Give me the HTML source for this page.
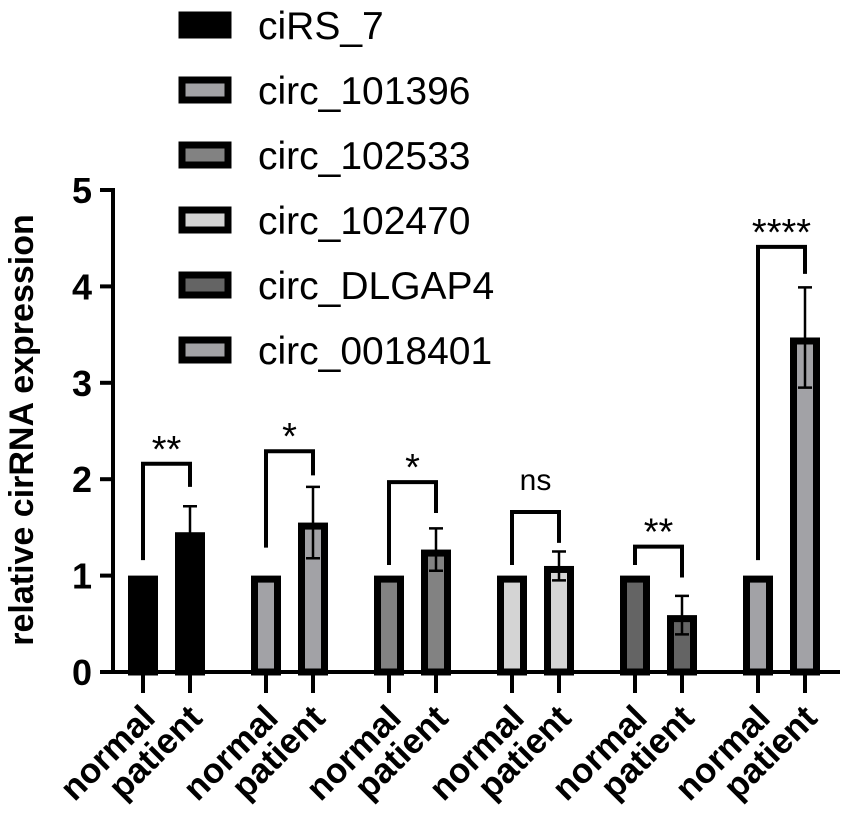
<!DOCTYPE html>
<html><head><meta charset="utf-8"><style>
body{margin:0;background:#fff;}
svg{display:block;font-family:"Liberation Sans",sans-serif;}
</style></head><body>
<svg id="chart" width="850" height="825" viewBox="0 0 850 825"></svg>
<script>
const series = ["ciRS_7","circ_101396","circ_102533","circ_102470","circ_DLGAP4","circ_0018401"];
const fills = ["#000","#a2a2a6","#828282","#d4d4d4","#646464","#a2a2a6"];
const normalValues = [1,1,1,1,1,1];
const patientValues = [1.45,1.55,1.27,1.10,0.59,3.47];
const patientErrors = [0.27,0.37,0.22,0.15,0.20,0.52];
const sigLabels = ["**","*","*","ns","**","****"];
const bracketTops = [2.16,2.29,1.97,1.66,1.30,4.41];
const bracketLeft = [1.16,1.29,1.11,1.11,1.11,1.16];
const bracketRight = [1.92,2.04,1.65,1.34,0.98,4.13];
const yTicks = [0,1,2,3,4,5];

const NS="http://www.w3.org/2000/svg";
const svg=document.getElementById('chart');
function el(t,a,p){const e=document.createElementNS(NS,t);for(const k in a)e.setAttribute(k,a[k]);(p||svg).appendChild(e);return e;}
const y0=672, unit=96.4;
function Y(v){return y0-v*unit;}
function X(g,sub){return 143+g*123+sub*47;}
const bw=30;

let a=el('line',{x1:113,y1:Y(5)-2,x2:113,y2:y0+2,stroke:'#000','stroke-width':4});

a=el('line',{x1:111,y1:y0,x2:840,y2:y0,stroke:'#000','stroke-width':4});

yTicks.forEach(t=>{
  const l=el('line',{x1:100,y1:Y(t),x2:113,y2:Y(t),stroke:'#000','stroke-width':4});
  
  const tx=el('text',{x:92,y:Y(t)+13,'text-anchor':'end','font-size':36,'font-weight':'bold'});
  tx.textContent=t;
  
});
const yt=el('text',{transform:'translate(33,430) rotate(-90)','text-anchor':'middle','font-size':34,'font-weight':'bold'});
yt.textContent='relative cirRNA expression';


function bar(x,v,fill,name){
  const top=Y(v);
  const r=el('rect',{x:x-bw/2+3.5,y:top+3.5,width:bw-7,height:y0-top-3.5,fill:fill,stroke:'#000','stroke-width':7});
  
}
series.forEach((s,g)=>{
  bar(X(g,0),normalValues[g],fills[g],'bar-normal-'+g);
  bar(X(g,1),patientValues[g],fills[g],'bar-patient-'+g);
  [0,1].forEach(sub=>{const t=el('line',{x1:X(g,sub),y1:y0,x2:X(g,sub),y2:y0+21,stroke:'#000','stroke-width':4});
    });
  const xp=X(g,1),hi=patientValues[g]+patientErrors[g],lo=patientValues[g]-patientErrors[g];
  const eb=el('path',{d:`M${xp} ${Y(hi)}V${Y(lo)}M${xp-7} ${Y(hi)}H${xp+7}M${xp-7} ${Y(lo)}H${xp+7}`,stroke:'#000','stroke-width':2.5,fill:'none'});
  
  const xl=X(g,0),xr=X(g,1);
  const br=el('path',{d:`M${xl} ${Y(bracketLeft[g])}V${Y(bracketTops[g])}H${xr}V${Y(bracketRight[g])}`,stroke:'#000','stroke-width':4,fill:'none'});
  
  const isNs=sigLabels[g]==='ns';
  const st=el('text',{x:(xl+xr)/2,y:Y(bracketTops[g])-(isNs?22:2),'text-anchor':'middle','font-size':isNs?30:38});
  st.textContent=sigLabels[g];
  
  [['normal',0],['patient',1]].forEach(([txt,sub])=>{
    const x=X(g,sub)+14,y=720;
    const l=el('text',{transform:`translate(${x},${y}) rotate(-45)`,'text-anchor':'end','font-size':35,'font-weight':'bold'});
    l.textContent=txt;
    
  });
  const ly=25+g*65;
  const sw=el('rect',{x:182,y:ly-10,width:46,height:20,fill:fills[g],stroke:'#000','stroke-width':7});
  
  const lt=el('text',{x:258,y:ly+14,'font-size':39});
  lt.textContent=s;
  
});
</script>
</body></html>
